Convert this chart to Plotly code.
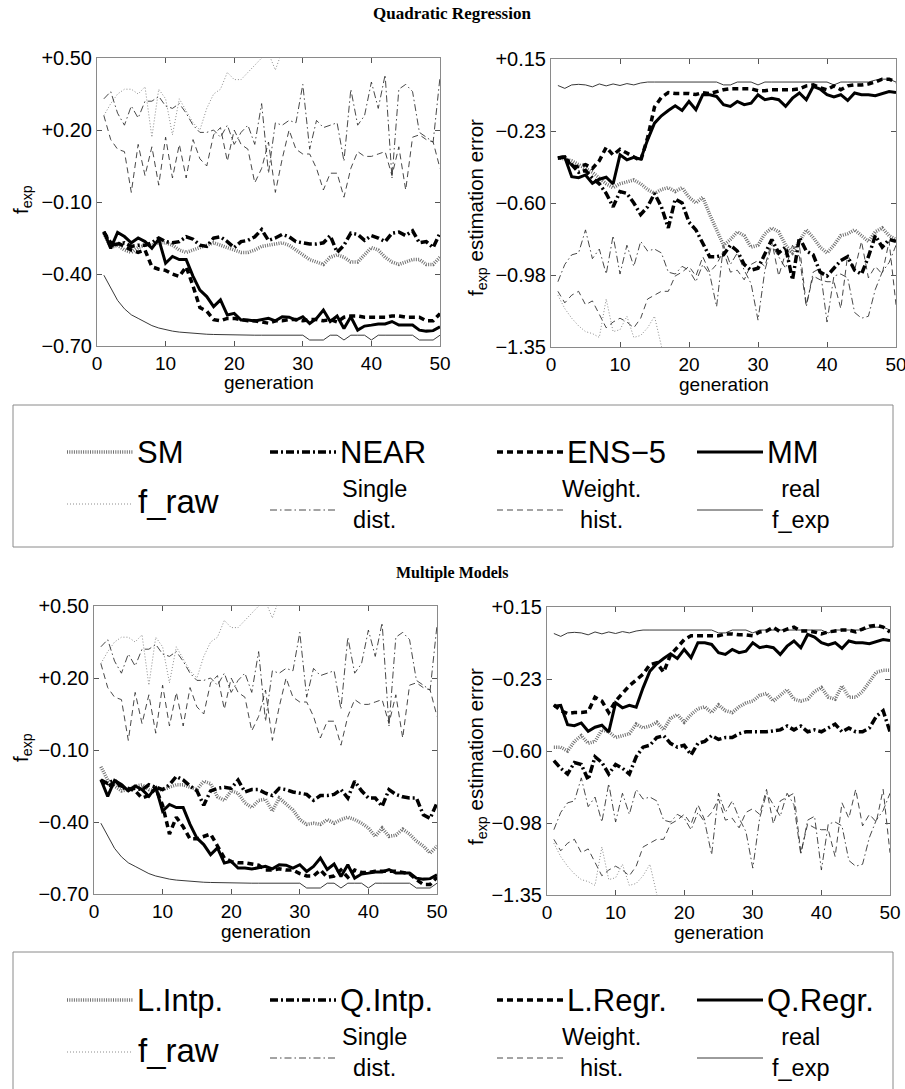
import plotly.graph_objects as go

W, H = 905, 1089

GEN = list(range(1, 51))

# ---------------- f_exp panels (left column) ----------------
RAW_L = [0.26, 0.31, 0.35, 0.37, 0.37, 0.35, 0.38, 0.17, 0.37, 0.33,
         0.18, 0.33, 0.28, 0.23, 0.20, 0.29, 0.35, 0.37, 0.44, 0.41,
         0.41, 0.44, 0.47, 0.50, 0.52, 0.45, 0.53, 0.58] + [None] * 22
SINGLE_L = [0.33, 0.36, 0.27, 0.22, 0.30, 0.25, 0.32, 0.32, 0.34, 0.30,
            0.29, 0.31, 0.27, 0.22, 0.19, 0.19, 0.20, 0.17, 0.22, 0.14,
            0.19, 0.22, 0.14, 0.31, 0.02, 0.23, 0.22, 0.24, 0.23, 0.39,
            0.12, 0.24, 0.21, 0.22, 0.23, 0.07, 0.37, 0.22, 0.26, 0.40,
            0.29, 0.43, 0.00, 0.37, 0.39, 0.36, 0.19, 0.17, 0.15, 0.42]
WEIGHT_L = [0.26, 0.16, 0.12, 0.11, -0.06, 0.14, 0.01, 0.13, -0.03, 0.17,
            0.00, 0.14, 0.00, 0.16, 0.08, 0.05, 0.18, 0.21, 0.07, 0.20,
            0.14, 0.12, -0.02, 0.04, 0.15, -0.06, 0.08, 0.20, 0.12, 0.10,
            0.10, 0.04, -0.05, 0.02, 0.02, -0.08, 0.04, 0.11, 0.09, 0.09,
            0.10, 0.11, 0.01, 0.13, -0.05, 0.17, 0.18, 0.16, 0.15, 0.04]
REAL_L = [-0.405, -0.46, -0.51, -0.545, -0.57, -0.585, -0.60, -0.615, -0.625, -0.632,
          -0.638, -0.642, -0.645, -0.648, -0.65, -0.651, -0.652, -0.653, -0.654, -0.655,
          -0.655, -0.655, -0.655, -0.655, -0.655, -0.655, -0.655, -0.655, -0.655, -0.655,
          -0.675, -0.675, -0.675, -0.655, -0.655, -0.675, -0.655, -0.655, -0.655, -0.675,
          -0.655, -0.655, -0.655, -0.655, -0.655, -0.655, -0.675, -0.675, -0.675, -0.655]
QREGR_L = [-0.223, -0.293, -0.227, -0.244, -0.27, -0.25, -0.265, -0.293, -0.255, -0.355,
           -0.327, -0.34, -0.34, -0.41, -0.467, -0.494, -0.536, -0.508, -0.571, -0.564,
           -0.592, -0.592, -0.596, -0.589, -0.585, -0.595, -0.578, -0.58, -0.592, -0.578,
           -0.606, -0.585, -0.55, -0.598, -0.575, -0.627, -0.578, -0.634, -0.617, -0.613,
           -0.608, -0.608, -0.598, -0.613, -0.613, -0.613, -0.634, -0.638, -0.636, -0.62]
SM_L = [-0.23, -0.29, -0.28, -0.30, -0.31, -0.29, -0.28, -0.28, -0.27, -0.27,
        -0.28, -0.30, -0.31, -0.30, -0.29, -0.28, -0.27, -0.28, -0.29, -0.30,
        -0.31, -0.31, -0.30, -0.285, -0.28, -0.275, -0.27, -0.28, -0.30, -0.32,
        -0.34, -0.35, -0.36, -0.33, -0.32, -0.33, -0.35, -0.35, -0.32, -0.29,
        -0.30, -0.33, -0.35, -0.36, -0.35, -0.34, -0.34, -0.36, -0.36, -0.33]
NEAR_L = [-0.225, -0.28, -0.275, -0.27, -0.285, -0.28, -0.28, -0.27, -0.25, -0.265,
          -0.27, -0.265, -0.245, -0.255, -0.28, -0.285, -0.25, -0.245, -0.265, -0.29,
          -0.265, -0.26, -0.245, -0.215, -0.26, -0.25, -0.235, -0.245, -0.265, -0.27,
          -0.275, -0.275, -0.27, -0.24, -0.31, -0.28, -0.23, -0.235, -0.26, -0.24,
          -0.25, -0.265, -0.23, -0.225, -0.24, -0.22, -0.27, -0.265, -0.29, -0.23]
ENS5_L = [-0.225, -0.27, -0.27, -0.285, -0.30, -0.31, -0.30, -0.37, -0.38, -0.385,
          -0.40, -0.41, -0.37, -0.45, -0.54, -0.555, -0.59, -0.595, -0.585, -0.585,
          -0.59, -0.595, -0.595, -0.60, -0.605, -0.595, -0.595, -0.59, -0.59, -0.595,
          -0.59, -0.59, -0.595, -0.59, -0.60, -0.58, -0.575, -0.575, -0.58, -0.58,
          -0.58, -0.58, -0.575, -0.575, -0.58, -0.58, -0.58, -0.595, -0.595, -0.565]
LINTP_L = [-0.17, -0.225, -0.25, -0.27, -0.265, -0.25, -0.245, -0.265, -0.27, -0.265,
           -0.255, -0.245, -0.245, -0.255, -0.265, -0.23, -0.24, -0.295, -0.31, -0.27,
           -0.28, -0.32, -0.34, -0.31, -0.305, -0.355, -0.30, -0.325, -0.35, -0.39,
           -0.41, -0.405, -0.41, -0.39, -0.405, -0.39, -0.38, -0.39, -0.405, -0.425,
           -0.46, -0.425, -0.46, -0.455, -0.43, -0.45, -0.48, -0.50, -0.53, -0.50]
QINTP_L = [-0.225, -0.24, -0.225, -0.255, -0.265, -0.26, -0.265, -0.245, -0.255, -0.265,
           -0.245, -0.21, -0.225, -0.25, -0.27, -0.33, -0.27, -0.26, -0.255, -0.26,
           -0.225, -0.275, -0.265, -0.265, -0.28, -0.29, -0.26, -0.265, -0.275, -0.28,
           -0.285, -0.31, -0.29, -0.29, -0.285, -0.265, -0.30, -0.23, -0.27, -0.30,
           -0.30, -0.335, -0.265, -0.285, -0.295, -0.30, -0.30, -0.37, -0.385, -0.32]
LREGR_L = [-0.225, -0.25, -0.24, -0.25, -0.26, -0.27, -0.30, -0.29, -0.26, -0.33,
           -0.45, -0.38, -0.42, -0.47, -0.47, -0.46, -0.45, -0.50, -0.55, -0.565,
           -0.57, -0.57, -0.575, -0.58, -0.60, -0.60, -0.595, -0.60, -0.60, -0.615,
           -0.625, -0.625, -0.60, -0.63, -0.625, -0.60, -0.63, -0.60, -0.61, -0.61,
           -0.605, -0.605, -0.605, -0.605, -0.61, -0.615, -0.64, -0.66, -0.66, -0.63]

# ---------------- estimation error panels (right column) ----------------
RAW_R = [-1.08, -1.15, -1.20, -1.24, -1.27, -1.28, -1.30, -1.10, -1.27, -1.26,
         -1.19, -1.30, -1.29, -1.25, -1.19, -1.33, -1.50] + [None] * 33
SINGLE_R = [-1.01, -0.92, -0.87, -0.86, -0.74, -0.89, -0.84, -0.97, -0.77, -0.97,
            -0.82, -0.93, -0.80, -0.85, -0.84, -0.86, -0.96, -0.97, -0.93, -0.95,
            -1.01, -0.92, -0.97, -1.14, -0.82, -0.92, -0.86, -0.95, -1.02, -1.21,
            -0.95, -0.82, -0.88, -0.94, -0.82, -0.88, -1.14, -0.96, -0.94, -1.22,
            -0.98, -0.97, -0.99, -1.17, -1.20, -1.19, -1.05, -0.96, -0.91, -0.82]
WEIGHT_R = [-1.06, -1.12, -1.08, -1.06, -1.13, -1.11, -1.18, -1.25, -1.22, -1.20,
            -1.22, -1.25, -1.20, -1.10, -1.08, -1.06, -1.06, -0.98, -0.96, -0.93,
            -0.98, -0.88, -0.96, -0.92, -0.85, -0.96, -0.95, -1.00, -0.92, -0.90,
            -0.93, -0.80, -0.98, -0.86, -0.84, -0.82, -1.13, -0.98, -1.00, -1.01,
            -1.01, -1.15, -0.87, -0.95, -0.80, -0.99, -0.93, -0.97, -0.80, -1.13]
REAL_R = [0.012, -0.003, 0.015, 0.018, 0.015, 0.005, 0.02, 0.01, 0.02, 0.012,
          0.022, 0.015, 0.025, 0.03, 0.03, 0.03, 0.03, 0.03, 0.03, 0.03,
          0.03, 0.03, 0.03, 0.03, 0.015, 0.015, 0.03, 0.03, 0.03, 0.015,
          0.03, 0.03, 0.03, 0.03, 0.03, 0.03, 0.03, 0.03, 0.03, 0.03,
          0.015, 0.03, 0.03, 0.03, 0.03, 0.03, 0.04, 0.045, 0.045, 0.03]
QREGR_R = [-0.367, -0.362, -0.463, -0.468, -0.454, -0.497, -0.476, -0.466, -0.501, -0.349,
           -0.375, -0.362, -0.372, -0.271, -0.184, -0.146, -0.118, -0.094, -0.118, -0.071,
           -0.114, -0.036, -0.036, -0.045, -0.088, -0.097, -0.071, -0.088, -0.080, -0.036,
           -0.062, -0.054, -0.062, -0.097, -0.054, -0.027, -0.062, 0.007, -0.007, -0.036,
           -0.048, -0.036, -0.066, -0.027, -0.036, -0.036, -0.041, -0.031, -0.019, -0.024]
SM_R = [-0.365, -0.37, -0.38, -0.40, -0.42, -0.44, -0.47, -0.50, -0.52, -0.50,
        -0.49, -0.48, -0.50, -0.53, -0.55, -0.53, -0.52, -0.54, -0.52, -0.57,
        -0.60, -0.57, -0.66, -0.74, -0.82, -0.79, -0.75, -0.77, -0.83, -0.82,
        -0.76, -0.73, -0.75, -0.82, -0.86, -0.80, -0.74, -0.78, -0.83, -0.86,
        -0.82, -0.77, -0.76, -0.74, -0.77, -0.80, -0.75, -0.73, -0.77, -0.79]
NEAR_R = [-0.365, -0.36, -0.40, -0.44, -0.43, -0.47, -0.50, -0.55, -0.62, -0.54,
          -0.55, -0.60, -0.66, -0.62, -0.55, -0.62, -0.73, -0.58, -0.60, -0.70,
          -0.74, -0.81, -0.88, -0.88, -0.87, -0.82, -0.85, -0.92, -0.95, -0.94,
          -0.86, -0.79, -0.86, -0.83, -1.00, -0.78, -0.85, -0.87, -0.96, -0.98,
          -0.94, -0.90, -0.88, -0.95, -0.97, -0.88, -0.77, -0.83, -0.79, -0.80]
ENS5_R = [-0.365, -0.36, -0.41, -0.41, -0.40, -0.42, -0.38, -0.31, -0.35, -0.32,
          -0.34, -0.36, -0.38, -0.26, -0.10, -0.05, -0.025, -0.03, -0.03, -0.03,
          -0.035, -0.025, -0.03, -0.02, -0.01, -0.005, -0.005, -0.005, -0.005, -0.015,
          -0.015, -0.01, -0.01, -0.01, -0.01, -0.005, 0.01, 0.015, 0.0, -0.01,
          0.01, -0.01, 0.01, 0.015, 0.015, 0.02, 0.03, 0.045, 0.045, 0.03]
LINTP_R = [-0.58, -0.58, -0.60, -0.55, -0.52, -0.56, -0.55, -0.49, -0.50, -0.53,
           -0.52, -0.51, -0.46, -0.48, -0.47, -0.45, -0.49, -0.43, -0.41, -0.45,
           -0.41, -0.38, -0.37, -0.40, -0.36, -0.39, -0.40, -0.37, -0.35, -0.34,
           -0.31, -0.30, -0.34, -0.31, -0.28, -0.33, -0.34, -0.33, -0.29, -0.27,
           -0.32, -0.33, -0.26, -0.32, -0.32, -0.29, -0.24, -0.19, -0.18, -0.18]
QINTP_R = [-0.65, -0.69, -0.72, -0.66, -0.67, -0.75, -0.63, -0.66, -0.72, -0.67,
           -0.69, -0.72, -0.63, -0.58, -0.57, -0.53, -0.52, -0.56, -0.58, -0.57,
           -0.62, -0.56, -0.55, -0.52, -0.54, -0.53, -0.53, -0.51, -0.50, -0.50,
           -0.50, -0.50, -0.495, -0.49, -0.47, -0.49, -0.47, -0.50, -0.49, -0.50,
           -0.48, -0.46, -0.50, -0.48, -0.50, -0.50, -0.48, -0.42, -0.39, -0.50]
LREGR_R = [-0.36, -0.39, -0.405, -0.40, -0.40, -0.395, -0.32, -0.34, -0.40, -0.34,
           -0.30, -0.26, -0.23, -0.20, -0.15, -0.14, -0.19, -0.10, -0.06, -0.02,
           0.0, 0.0, 0.0, 0.0, 0.0, 0.01, 0.01, 0.005, 0.005, 0.0,
           0.02, 0.025, 0.045, 0.02, 0.035, 0.045, 0.025, 0.025, 0.02, 0.01,
           0.02, 0.025, 0.03, 0.03, 0.02, 0.035, 0.05, 0.055, 0.045, 0.02]

# tick labels
X_TICKS = [0, 10, 20, 30, 40, 50]
YL_TICKS = [0.50, 0.20, -0.10, -0.40, -0.70]
YL_TEXT = ["+0.50", "+0.20", "\u22120.10", "\u22120.40", "\u22120.70"]
YR_TICKS = [0.15, -0.225, -0.60, -0.975, -1.35]
YR_TEXT = ["+0.15", "\u22120.23", "\u22120.60", "\u22120.98", "\u22121.35"]

FONT = "Liberation Sans, Arial, Helvetica, sans-serif"
SERIF = "Liberation Serif, Times New Roman, serif"

# line styles
STYLE = {
    "sm": dict(color="#707070", width=3.5, dash="1px,1.3px"),
    "near": dict(color="black", width=3.5, dash="8px,3px,2px,3px"),
    "ens": dict(color="black", width=3.5, dash="6px,4px"),
    "mm": dict(color="black", width=3),
    "raw": dict(color="#8c8c8c", width=1, dash="1px,2px"),
    "single": dict(color="#333333", width=0.9, dash="7px,3px,1.5px,3px"),
    "weight": dict(color="#333333", width=0.9, dash="6px,4px"),
    "real": dict(color="#222222", width=0.9),
}


def px(x):
    return x / W


def py(y):
    return 1 - y / H


fig = go.Figure()

# (axis suffix, thin series, thick series)
panels = [
    ("", [RAW_L, SINGLE_L, WEIGHT_L, REAL_L], [SM_L, NEAR_L, ENS5_L, QREGR_L]),
    ("2", [RAW_R, SINGLE_R, WEIGHT_R, REAL_R], [SM_R, NEAR_R, ENS5_R, QREGR_R]),
    ("3", [RAW_L, SINGLE_L, WEIGHT_L, REAL_L], [LINTP_L, QINTP_L, LREGR_L, QREGR_L]),
    ("4", [RAW_R, SINGLE_R, WEIGHT_R, REAL_R], [LINTP_R, QINTP_R, LREGR_R, QREGR_R]),
]
thin_keys = ["raw", "single", "weight", "real"]
thick_keys = ["sm", "near", "ens", "mm"]

for suf, thin, thick in panels:
    for key, ys in zip(thin_keys + thick_keys, thin + thick):
        fig.add_trace(go.Scatter(
            x=GEN, y=ys, mode="lines", line=STYLE[key],
            xaxis="x" + suf, yaxis="y" + suf, showlegend=False,
            hoverinfo="skip", connectgaps=False))

# panel placement in pixels: (left, right, top, bottom)
boxes = {
    "": (97, 440, 58, 346),
    "2": (551, 896, 59, 347),
    "3": (94, 437, 606, 894),
    "4": (547, 890, 607, 895),
}

layout = dict(
    width=W, height=H, template="none",
    margin=dict(l=0, r=0, t=0, b=0),
    paper_bgcolor="white", plot_bgcolor="white",
    font=dict(family=FONT, color="black"),
    showlegend=False,
)

annotations = []
shapes = []

for suf, (l, r, t, b) in boxes.items():
    left_col = suf in ("", "3")
    layout["xaxis" + suf] = dict(
        domain=[px(l), px(r)], range=[0, 50], anchor="y" + suf,
        tickvals=X_TICKS, ticks="inside", ticklen=5, tickcolor="#555",
        showline=True, linecolor="#8a8a8a", linewidth=1, mirror="ticks",
        showgrid=False, zeroline=False, ticklabeloverflow="allow",
        tickfont=dict(size=19, family=FONT),
        automargin=False,
    )
    layout["yaxis" + suf] = dict(
        domain=[py(b), py(t)],
        range=[-0.70, 0.50] if left_col else [-1.35, 0.15],
        anchor="x" + suf,
        tickvals=YL_TICKS if left_col else YR_TICKS,
        ticktext=YL_TEXT if left_col else YR_TEXT,
        ticks="inside", ticklen=5, tickcolor="#555",
        showline=True, linecolor="#8a8a8a", linewidth=1, mirror="ticks",
        showgrid=False, zeroline=False, ticklabeloverflow="allow",
        tickfont=dict(size=20, family=FONT),
        automargin=False,
    )
    # x-axis title just below the tick labels
    annotations.append(dict(
        x=px((l + r) / 2), y=py(b + 37), xref="paper", yref="paper",
        text="generation", showarrow=False, xanchor="center", yanchor="middle",
        font=dict(size=19, family=FONT)))

# y-axis titles
for (x, y, txt) in [
    (22, 200, "f<sub>exp</sub>"),
    (477, 208, "f<sub>exp</sub> estimation error"),
    (22, 748, "f<sub>exp</sub>"),
    (477, 757, "f<sub>exp</sub> estimation error"),
]:
    annotations.append(dict(
        x=px(x), y=py(y), xref="paper", yref="paper", text=txt,
        textangle=-90, showarrow=False, xanchor="center", yanchor="middle",
        font=dict(size=20.5, family=FONT)))

# section headings
for y, txt, size in [(14, "Quadratic Regression", 17), (573, "Multiple Models", 16)]:
    annotations.append(dict(
        x=px(452), y=py(y), xref="paper", yref="paper", text="<b>" + txt + "</b>",
        showarrow=False, xanchor="center", yanchor="middle",
        font=dict(size=size, family=SERIF)))

# legend panels
LEG_TOP = ["SM", "NEAR", "ENS\u22125", "MM"]
LEG_BOTTOM = ["L.Intp.", "Q.Intp.", "L.Regr.", "Q.Regr."]
LEG_THIN = ["f_raw", "Single<br>dist.", "Weight.<br>hist.", "real<br>f_exp"]
COL_X = [67, 270, 497, 697]
SAMPLE_LEN = 66

for box_top, box_bottom, row1, labels in [
    (405, 547, 452, LEG_TOP),
    (952, 1095, 1000, LEG_BOTTOM),
]:
    shapes.append(dict(
        type="rect", xref="paper", yref="paper",
        x0=px(13), x1=px(893), y0=py(box_bottom), y1=py(box_top),
        line=dict(color="#8a8a8a", width=1), fillcolor="rgba(0,0,0,0)"))
    row2 = row1 + 52
    for i, cx in enumerate(COL_X):
        # upper row: model lines
        shapes.append(dict(
            type="line", xref="paper", yref="paper",
            x0=px(cx), x1=px(cx + SAMPLE_LEN), y0=py(row1), y1=py(row1),
            line=STYLE[thick_keys[i]]))
        annotations.append(dict(
            x=px(cx + SAMPLE_LEN + 2), y=py(row1), xref="paper", yref="paper",
            text=labels[i], showarrow=False, xanchor="left", yanchor="middle",
            font=dict(size=31, family=FONT)))
        # lower row: reference lines
        sy = row2 + (0 if i == 0 else 6)
        shapes.append(dict(
            type="line", xref="paper", yref="paper",
            x0=px(cx), x1=px(cx + SAMPLE_LEN), y0=py(sy), y1=py(sy),
            line=STYLE[thin_keys[i]]))
        if i == 0:
            annotations.append(dict(
                x=px(cx + SAMPLE_LEN + 3), y=py(row2 - 2), xref="paper", yref="paper",
                text=LEG_THIN[i], showarrow=False, xanchor="left", yanchor="middle",
                font=dict(size=33, family=FONT)))
        else:
            annotations.append(dict(
                x=px(cx + SAMPLE_LEN + 38), y=py(row2), xref="paper", yref="paper",
                text=LEG_THIN[i], showarrow=False, xanchor="center", yanchor="middle",
                align="center", font=dict(size=23.5, family=FONT)))

layout["annotations"] = annotations
layout["shapes"] = shapes
fig.update_layout(**layout)

fig.write_html("out.html")
